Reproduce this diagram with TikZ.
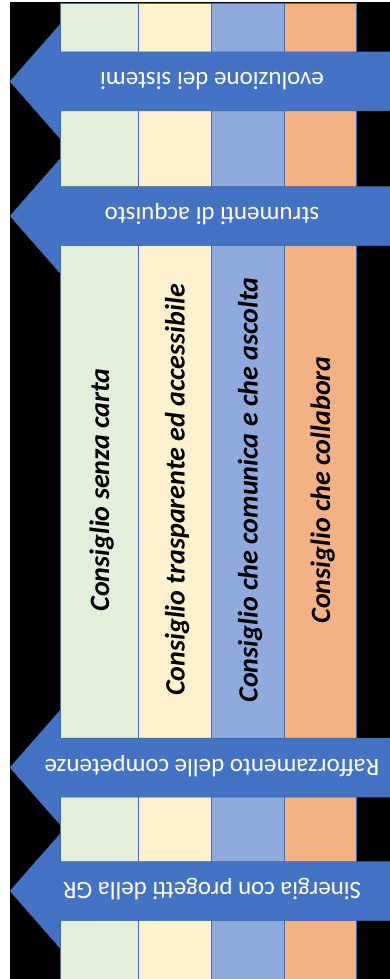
\documentclass[tikz,border=0pt]{standalone}
\usepackage{fontspec}
\setmainfont{Carlito}
\definecolor{arrowblue}{HTML}{4472C4}
\definecolor{arrowedge}{HTML}{3A62AA}
\definecolor{colgreen}{HTML}{E2EFDA}
\definecolor{colyellow}{HTML}{FFF2CC}
\definecolor{colblue}{HTML}{8FAADC}
\definecolor{colorange}{HTML}{F4B183}
\definecolor{coledge}{HTML}{41719C}
\tikzset{
  colbox/.style = {draw=coledge, line width=0.9pt},
  arrowshape/.style = {fill=arrowblue, draw=arrowedge, line width=0.5pt},
  coltext/.style = {rotate=90, anchor=base, inner sep=0pt,
    font=\fontsize{28}{34}\selectfont\bfseries\itshape},
  arrowtext/.style = {rotate=180, anchor=base, inner sep=0pt, text=white,
    font=\fontsize{25}{30}\selectfont}
}

\begin{document}
\begin{tikzpicture}[x=1pt,y=1pt]
  \pgfmathsetmacro{\Tip}{10};
  \pgfmathsetmacro{\Base}{60};
  \pgfmathsetmacro{\End}{390};
  \pgfmathsetmacro{\Half}{29.5}; % half of the arrow body
  \pgfmathsetmacro{\Head}{57};   % half of the arrow head
  \pgfmathsetmacro{\EvolY}{-81.5};
  \pgfmathsetmacro{\StrumY}{-216};
  \pgfmathsetmacro{\RaffY}{-767.5};
  \pgfmathsetmacro{\SinY}{-891};
  %
  \useasboundingbox[fill=white] (0,0) rectangle (390,-979);
  \fill[black] (10,-2) rectangle (390,-979);
  % columns
  \draw[colbox,fill=colgreen] (60,-3) rectangle (138,-982);
  \draw[colbox,fill=colyellow] (138,-3) rectangle (211,-982);
  \draw[colbox,fill=colblue] (211,-3) rectangle (284,-982);
  \draw[colbox,fill=colorange] (284,-3) rectangle (356,-982);
  \node[coltext] (senza) at (109,-490) {Consiglio senza carta};
  \node[coltext] (trasparente) at (184.5,-490) {Consiglio trasparente ed accessibile};
  \node[coltext] (comunica) at (257.5,-490) {Consiglio che comunica e che ascolta};
  \node[coltext] (collabora) at (330,-490) {Consiglio che collabora};
  % arrows
  \draw[arrowshape] (\End,{\EvolY+\Half}) -- (\Base,{\EvolY+\Half}) -- (\Base,{\EvolY+\Head})
    -- (\Tip,\EvolY) -- (\Base,{\EvolY-\Head}) -- (\Base,{\EvolY-\Half}) -- (\End,{\EvolY-\Half}) -- cycle;
  \draw[arrowshape] (\End,{\StrumY+\Half}) -- (\Base,{\StrumY+\Half}) -- (\Base,{\StrumY+\Head})
    -- (\Tip,\StrumY) -- (\Base,{\StrumY-\Head}) -- (\Base,{\StrumY-\Half}) -- (\End,{\StrumY-\Half}) -- cycle;
  \draw[arrowshape] (\End,{\RaffY+\Half}) -- (\Base,{\RaffY+\Half}) -- (\Base,{\RaffY+\Head})
    -- (\Tip,\RaffY) -- (\Base,{\RaffY-\Head}) -- (\Base,{\RaffY-\Half}) -- (\End,{\RaffY-\Half}) -- cycle;
  \draw[arrowshape] (\End,{\SinY+\Half}) -- (\Base,{\SinY+\Half}) -- (\Base,{\SinY+\Head})
    -- (\Tip,\SinY) -- (\Base,{\SinY-\Head}) -- (\Base,{\SinY-\Half}) -- (\End,{\SinY-\Half}) -- cycle;
  % arrow labels
  \node[arrowtext] (evoluzione) at (212,{\EvolY+8.5}) {evoluzione dei sistemi};
  \node[arrowtext] (strumenti) at (212,{\StrumY+8.5}) {strumenti di acquisto};
  \node[arrowtext] (rafforzamento) at (212,{\RaffY+8.5}) {Rafforzamento delle competenze};
  \node[arrowtext] (sinergia) at (212,{\SinY+8.5}) {Sinergia con progetti della GR};
\end{tikzpicture}
\end{document}
